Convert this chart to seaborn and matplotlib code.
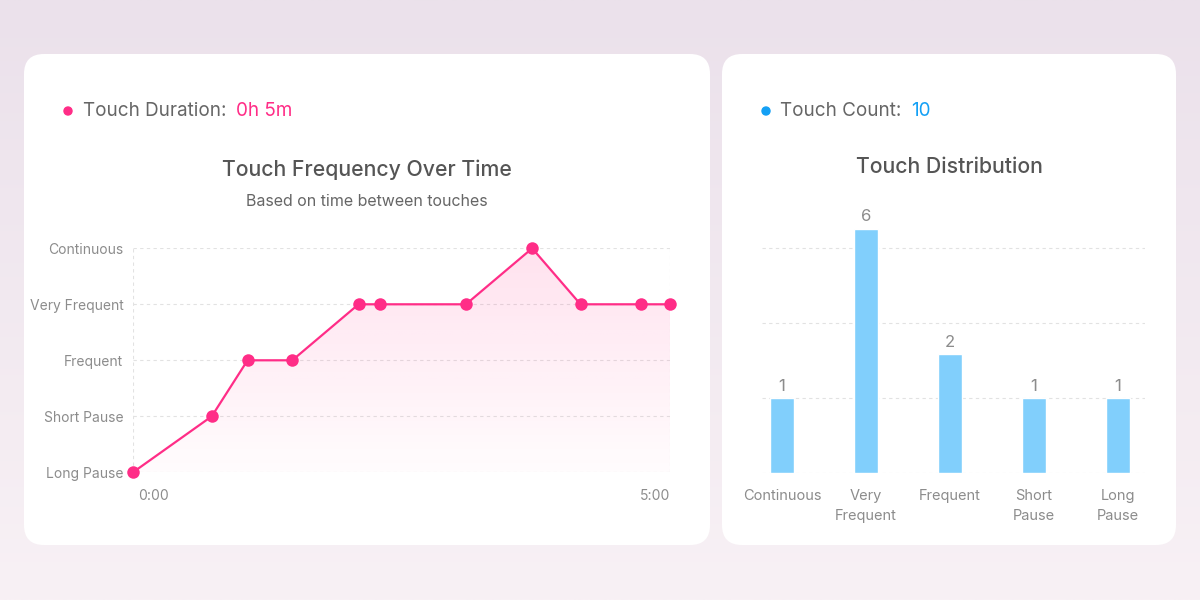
import numpy as np
import pandas as pd
import matplotlib
matplotlib.use("Agg")
import matplotlib.pyplot as plt
import seaborn as sns
from matplotlib.patches import FancyBboxPatch, Circle
from matplotlib.colors import to_rgb
import matplotlib.transforms as mtransforms

# ---------------- data ----------------
level_labels = ["Long Pause", "Short Pause", "Frequent", "Very Frequent", "Continuous"]
touch_seconds = [0, 44, 64, 89, 126, 138, 186, 223, 250, 284, 300]
touch_levels = [0, 1, 2, 2, 3, 3, 3, 4, 3, 3, 3]
time_ticks = [0, 300]
time_tick_labels = ["0:00", "5:00"]

dist_categories = ["Continuous", "Very\nFrequent", "Frequent", "Short\nPause", "Long\nPause"]
dist_counts = [1, 6, 2, 1, 1]

duration_label = "Touch Duration:"
duration_value = "0h 5m"
count_label = "Touch Count:"
count_value = "10"

# ---------------- style ----------------
PINK = "#FF2D87"
BAR_BLUE = "#81CFFC"
BLUE = "#14A0F5"
GRID = "#E2E2E2"
TICK = "#8C8C8C"
TEXT = "#666666"
TITLE = "#555555"

sns.set_theme(style="white")
plt.rcParams["font.family"] = ["Inter", "DejaVu Sans"]

W, H = 1200, 600
fig = plt.figure(figsize=(12, 6), dpi=100)

# background axes in pixel coordinates
bg = fig.add_axes([0, 0, 1, 1], zorder=0)
bg.set_xlim(0, W)
bg.set_ylim(H, 0)
bg.axis("off")
top = np.array(to_rgb("#EBE1EB"))
bot = np.array(to_rgb("#F8F1F5"))
t = np.linspace(0, 1, 256)[:, None, None]
grad = top * (1 - t) + bot * t
grad = np.repeat(grad, 2, axis=1)
bg.imshow(grad, extent=[0, W, H, 0], aspect="auto", zorder=0)

for (x0, x1) in [(24, 710), (722, 1176)]:
    card = FancyBboxPatch((x0, 54), x1 - x0, 491,
                          boxstyle="round,pad=0,rounding_size=20",
                          facecolor="white", edgecolor="none", zorder=1)
    bg.add_patch(card)

# headers
HS = 13.6
bg.add_patch(Circle((68, 111), 4, color=PINK, zorder=2))
bg.text(83, 111, duration_label, color=TEXT, fontsize=HS, va="center", ha="left", zorder=3)
bg.text(236, 111, duration_value, color=PINK, fontsize=HS, va="center", ha="left", zorder=3)
bg.add_patch(Circle((766, 111), 4, color=BLUE, zorder=2))
bg.text(780, 111, count_label, color=TEXT, fontsize=HS, va="center", ha="left", zorder=3)
bg.text(911, 111, count_value, color=BLUE, fontsize=HS, va="center", ha="left", zorder=3)

bg.text(367, 170, "Touch Frequency Over Time", color=TITLE, fontsize=15.3, ha="center",
        va="center", fontweight="medium", zorder=3)
bg.text(367, 201, "Based on time between touches", color=TEXT, fontsize=11.5, ha="center",
        va="center", zorder=3)
bg.text(949, 167, "Touch Distribution", color=TITLE, fontsize=15.3, ha="center",
        va="center", fontweight="medium", zorder=3)

# ---------------- left: line chart ----------------
def px_axes(x0, x1, ytop, ybot, z=2):
    return fig.add_axes([x0 / W, (H - ybot) / H, (x1 - x0) / W, (ybot - ytop) / H], zorder=z)

ax = px_axes(133, 670, 248.3, 472.3)
ax.patch.set_alpha(0)
df = pd.DataFrame({"seconds": touch_seconds, "level": touch_levels})

poly = ax.fill_between(df["seconds"], df["level"], 0, facecolor="none", edgecolor="none")
alpha = np.linspace(0.015, 0.14, 256)[:, None]
rgba = np.zeros((256, 2, 4))
rgba[..., :3] = to_rgb(PINK)
rgba[..., 3] = alpha
im = ax.imshow(rgba, extent=[0, 300, 0, 4], origin="lower", aspect="auto", zorder=1)
im.set_clip_path(poly.get_paths()[0], transform=ax.transData)

sns.lineplot(data=df, x="seconds", y="level", ax=ax, color=PINK, linewidth=1.6,
             marker="o", markersize=9, markeredgewidth=0, zorder=3)
for ln in ax.lines:
    ln.set_clip_on(False)

ax.set_xlim(0, 300)
ax.set_ylim(0, 4)
ax.set_yticks(range(len(level_labels)))
ax.set_yticklabels(level_labels)
ax.set_xticks(time_ticks)
ax.set_xticklabels(time_tick_labels)
ax.set_xlabel("")
ax.set_ylabel("")
ax.tick_params(axis="both", length=0, colors=TICK, labelsize=10)
ax.tick_params(axis="y", pad=7)
ax.tick_params(axis="x", pad=12)
xl = ax.get_xticklabels()
xl[0].set_ha("left")
xl[0].set_transform(xl[0].get_transform() + mtransforms.ScaledTranslation(5 / 100, 0, fig.dpi_scale_trans))
xl[-1].set_ha("right")
ax.grid(True, color=GRID, linestyle=(0, (3, 3)), linewidth=0.8)
for s in ax.spines.values():
    s.set_visible(False)

# ---------------- right: bar chart ----------------
ax2 = px_axes(762, 1145, 210, 472.7)
ax2.patch.set_alpha(0)
P = 0.66
fwd = lambda v: np.sign(v) * np.abs(v) ** P
inv = lambda v: np.sign(v) * np.abs(v) ** (1 / P)
ax2.set_yscale("function", functions=(fwd, inv))

bdf = pd.DataFrame({"category": dist_categories, "count": dist_counts})
sns.barplot(data=bdf, x="category", y="count", ax=ax2, color=BAR_BLUE, saturation=1,
            width=24 / 84, zorder=2)
ax2.bar_label(ax2.containers[0], padding=3, color=TICK, fontsize=12)
for tx in ax2.texts:
    tx.set_clip_on(False)

ax2.set_xlim(-0.238, 4.32)
ax2.set_ylim(0, inv(3.51))
ax2.set_yticks(inv(np.arange(4)))
ax2.set_yticklabels([])
ax2.set_xlabel("")
ax2.set_ylabel("")
ax2.tick_params(axis="both", length=0, colors=TICK, labelsize=10.5)
ax2.tick_params(axis="x", pad=12)
for lbl in ax2.get_xticklabels():
    lbl.set_linespacing(1.55)
    lbl.set_va("top")
ax2.grid(True, axis="y", color=GRID, linestyle=(0, (3, 3)), linewidth=0.8)
ax2.grid(False, axis="x")
for s in ax2.spines.values():
    s.set_visible(False)

fig.savefig("out.png", dpi=100)
